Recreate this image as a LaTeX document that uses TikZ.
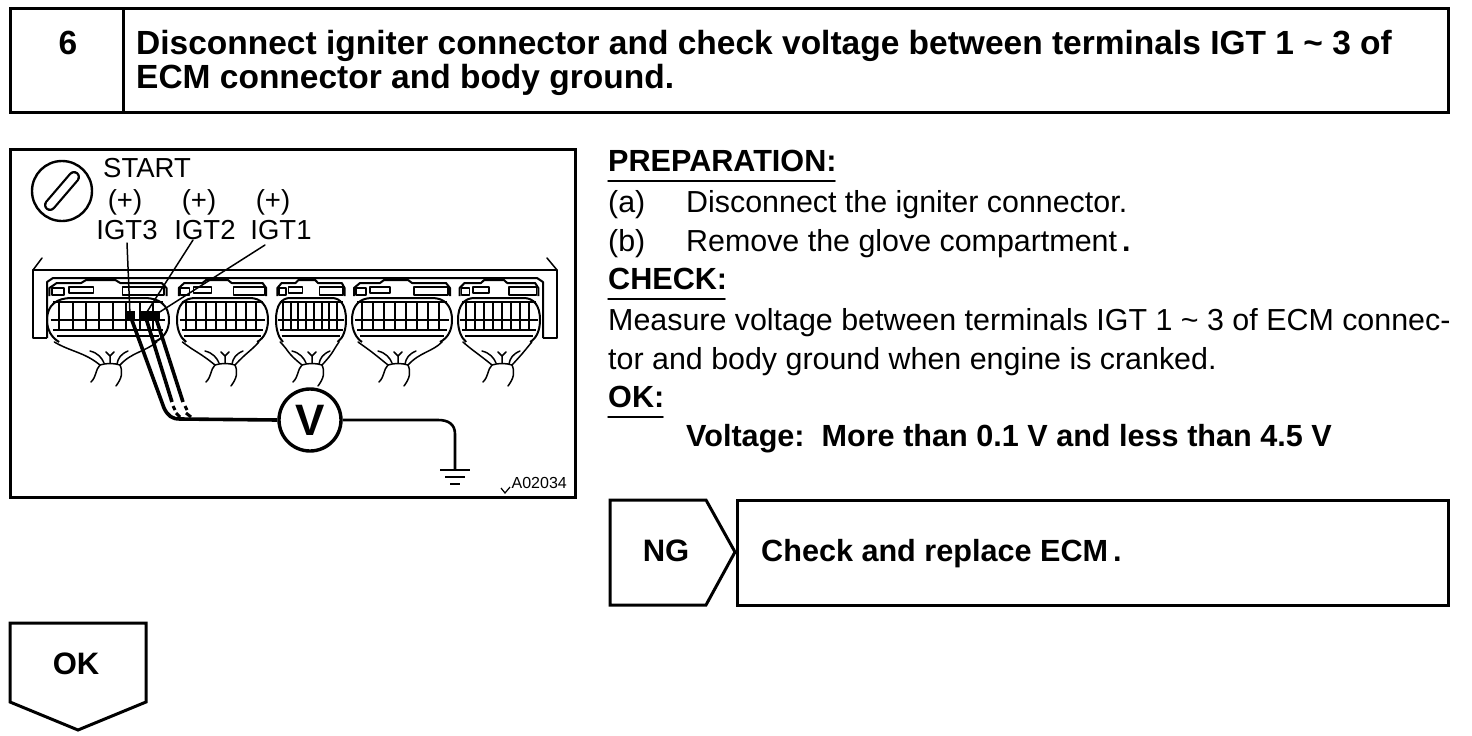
\documentclass[tikz,border=0pt]{standalone}
\usepackage{fontspec}
\setmainfont{Liberation Sans}
\usetikzlibrary{positioning}
\tikzset{
	box/.style={line width=3pt, draw=black},
	wire/.style={line width=1.5pt, line cap=round, line join=round},
	plugline/.style={line width=2pt, line join=round},
	probe/.style={line width=3.6pt, line join=round},
	body/.style={anchor=base west, inner sep=0pt, font=\fontsize{30.4}{32}\selectfont},
	bold/.style={body, font=\fontsize{30.6}{32}\selectfont\bfseries},
	head/.style={anchor=base west, inner sep=0pt, font=\fontsize{33.5}{34}\selectfont\bfseries},
	small/.style={inner sep=0pt, font=\fontsize{27.5}{28}\selectfont},
}
% one connector of the ECM: left edge, width, centre of its loom
\newcommand{\ecmplug}[3]{
	\begin{scope}[shift={(#1,0)}, x=#2pt]
		\draw[plugline] (.02,296) -- (.02,288) -- (.08,283) -- (.28,283) -- (.32,280) -- (.56,280) -- (.6,283) -- (.94,283) -- (.98,288) -- (.98,296);
		\draw[wire] (.04,295) rectangle (.14,288);
		\draw[wire] (.18,293) rectangle (.38,287);
		\draw[wire] (.62,295) rectangle (.96,287);
		\draw[plugline] (0,320) .. controls (0,305) and (.08,298) .. (.2,298) -- (.8,298) .. controls (.92,298) and (1,305) .. (1,320)
			.. controls (1,330) and (.96,338) .. (.88,342);
		\draw[plugline] (0,320) .. controls (0,330) and (.04,338) .. (.1,342);
		\draw[plugline] (.08,336) -- (.92,336);
		\foreach \gx in {.1,.21,...,.92}
			\draw[plugline] (\gx,302) -- (\gx,330);
		\draw[plugline] (.05,302) -- (.95,302);
		\draw[plugline] (.03,320) -- (.97,320);
		\draw[plugline] (.05,330) -- (.95,330);
	\end{scope}
	% loom of wires below the connector
	\draw[wire] (#1+.06*#2,342) .. controls (#1+.2*#2,352) and (#3-26,352) .. (#3-10,365);
	\draw[wire] (#1+.9*#2,342) .. controls (#1+.8*#2,352) and (#3+22,352) .. (#3+10,365);
	\draw[wire] (#3-20,351) .. controls (#3-12,353) and (#3-8,358) .. (#3-6,363);
	\draw[wire] (#3+18,351) .. controls (#3+11,354) and (#3+8,358) .. (#3+7,364);
	\draw[wire] (#3-10,365) .. controls (#3-4,363) and (#3+4,363) .. (#3+10,365);
	\draw[wire] (#3,363) -- (#3,356) -- (#3-4,352) (#3,356) -- (#3+4,352);
	\draw[wire] (#3-10,365) .. controls (#3-15,370) and (#3-13,376) .. (#3-19,382);
	\draw[wire] (#3+10,365) .. controls (#3+13,372) and (#3+12,378) .. (#3+6,386);
}
\begin{document}
\begin{tikzpicture}[x=1pt, y=-1pt]
	\useasboundingbox (0,0) rectangle (1472,736);

	% title bar
	\draw[box] (10,8) rectangle (1448,112);
	\draw[box] (123,8) -- (123,112);
	\node[inner sep=0pt, font=\fontsize{33.5}{34}\selectfont\bfseries] (stepno) at (68,43) {6};
	\node[head] (title1) at (136,54) {Disconnect igniter connector and check voltage between terminals IGT 1 \textasciitilde{} 3 of};
	\node[head] (title2) at (136,88) {ECM connector and body ground.};

	% drawing
	\draw[box] (10,149) rectangle (575,497);
	\node[circle, draw, line width=2.4pt, minimum size=60pt, inner sep=0pt] (key) at (62,191) {};
	\draw[line width=12pt, line cap=round] (50,205) -- (74,177);
	\draw[line width=7.5pt, line cap=round, white] (50,205) -- (74,177);
	\node[small, anchor=base west] (start) at (103,177) {START};
	\node[small] (plus3) at (125,202) {(+)};
	\node[small] (plus2) at (199,202) {(+)};
	\node[small] (plus1) at (273,202) {(+)};
	\node[small] (igt3) at (127,230) {IGT3};
	\node[small] (igt2) at (205,230) {IGT2};
	\node[small] (igt1) at (281,230) {IGT1};

	\draw[wire] (33,338) -- (33,270) -- (557,270) -- (557,338);
	\draw[line width=2.4pt] (33,270) -- (557,270);
	\draw[wire] (33,270) -- (42,258);
	\draw[wire] (557,270) -- (547,258);
	\draw[plugline] (47,338) -- (47,282) -- (53,278) -- (537,278) -- (543,282) -- (543,338);
	\draw[plugline] (33,338) -- (47,338) (543,338) -- (557,338);
	\ecmplug{47}{122}{110}
	\ecmplug{177}{91}{225}
	\ecmplug{276}{70}{312}
	\ecmplug{352}{100}{398}
	\ecmplug{458}{82}{502}

	\coordinate (pin3) at (130,315);
	\coordinate (pin2) at (145,315);
	\coordinate (pin1) at (155,315);
	\foreach \pin in {pin3,pin2,pin1}
		\fill (\pin) ++(-5,-4) rectangle ++(10,9);
	\draw[wire] (127,243) -- (pin3);
	\draw[wire] (193,240) -- (pin2);
	\draw[wire] (265,245) -- (pin1);

	\node[circle, draw, line width=3.4pt, minimum size=62pt, inner sep=0pt, font=\fontsize{44}{44}\selectfont\bfseries] (volt) at (310,420) {V};
	\node[inner sep=0pt] (gnd) at (455,470) {};
	\draw[probe] (pin3) -- (164,408) .. controls (168,416) and (172,419) .. (180,419) -- (volt.west);
	\draw[probe] (pin2) -- (172,402);
	\draw[probe] (pin1) -- (183,402);
	\draw[line width=3pt] (173,406) -- (175,410) (176,413) -- (180,417) (185,406) -- (187,410) (186,413) -- (191,417);
	\draw[line width=2.6pt] (volt.east) -- (438,420) .. controls (448,420) and (455,424) .. (455,434) -- (gnd);
	\draw[line width=2pt] (440,470) -- (470,470) (445,477) -- (465,477) (450,484) -- (460,484);
	\node[inner sep=0pt, font=\fontsize{16}{16}\selectfont, anchor=base east] (figno) at (567,488) {A02034};
	\draw[line width=1.2pt] (501,488) -- (505,493) -- (510,487);

	% right column
	\node[bold] (prep) at (608,171) {PREPARATION:};
	\draw[wire] (608,181) -- (835,181);
	\node[body] (a) at (608,212) {(a)};
	\node[body] (atext) at (686,212) {Disconnect the igniter connector.};
	\node[body] (b) at (608,251) {(b)};
	\node[body] (btext) at (686,251) {Remove the glove compartment\,\textbf{.}};
	\node[bold] (check) at (608,289) {CHECK:};
	\draw[wire] (608,299) -- (725,299);
	\node[body] (meas1) at (608,330) {Measure voltage between terminals IGT 1 \textasciitilde{} 3 of ECM connec-};
	\node[body] (meas2) at (608,369) {tor and body ground when engine is cranked.};
	\node[bold] (ok) at (608,407) {OK:};
	\draw[wire] (608,417) -- (663,417);
	\node[bold] (volts) at (686,446) {Voltage:\ \ More than 0.1 V and less than 4.5 V};

	% NG branch
	\draw[box, line join=miter] (610,500) -- (706,500) -- (735,552) -- (706,605) -- (610,605) -- cycle;
	\node[inner sep=0pt, font=\fontsize{31}{32}\selectfont\bfseries] (ng) at (666,551) {NG};
	\draw[box] (737,500) rectangle (1448,605);
	\node[bold] (replace) at (761,561) {Check and replace ECM\,.};

	% OK branch
	\draw[box, line join=miter] (10,623) -- (146,623) -- (146,702) -- (78,730) -- (10,702) -- cycle;
	\node[inner sep=0pt, font=\fontsize{31}{32}\selectfont\bfseries] (okbranch) at (76,664) {OK};
\end{tikzpicture}
\end{document}
